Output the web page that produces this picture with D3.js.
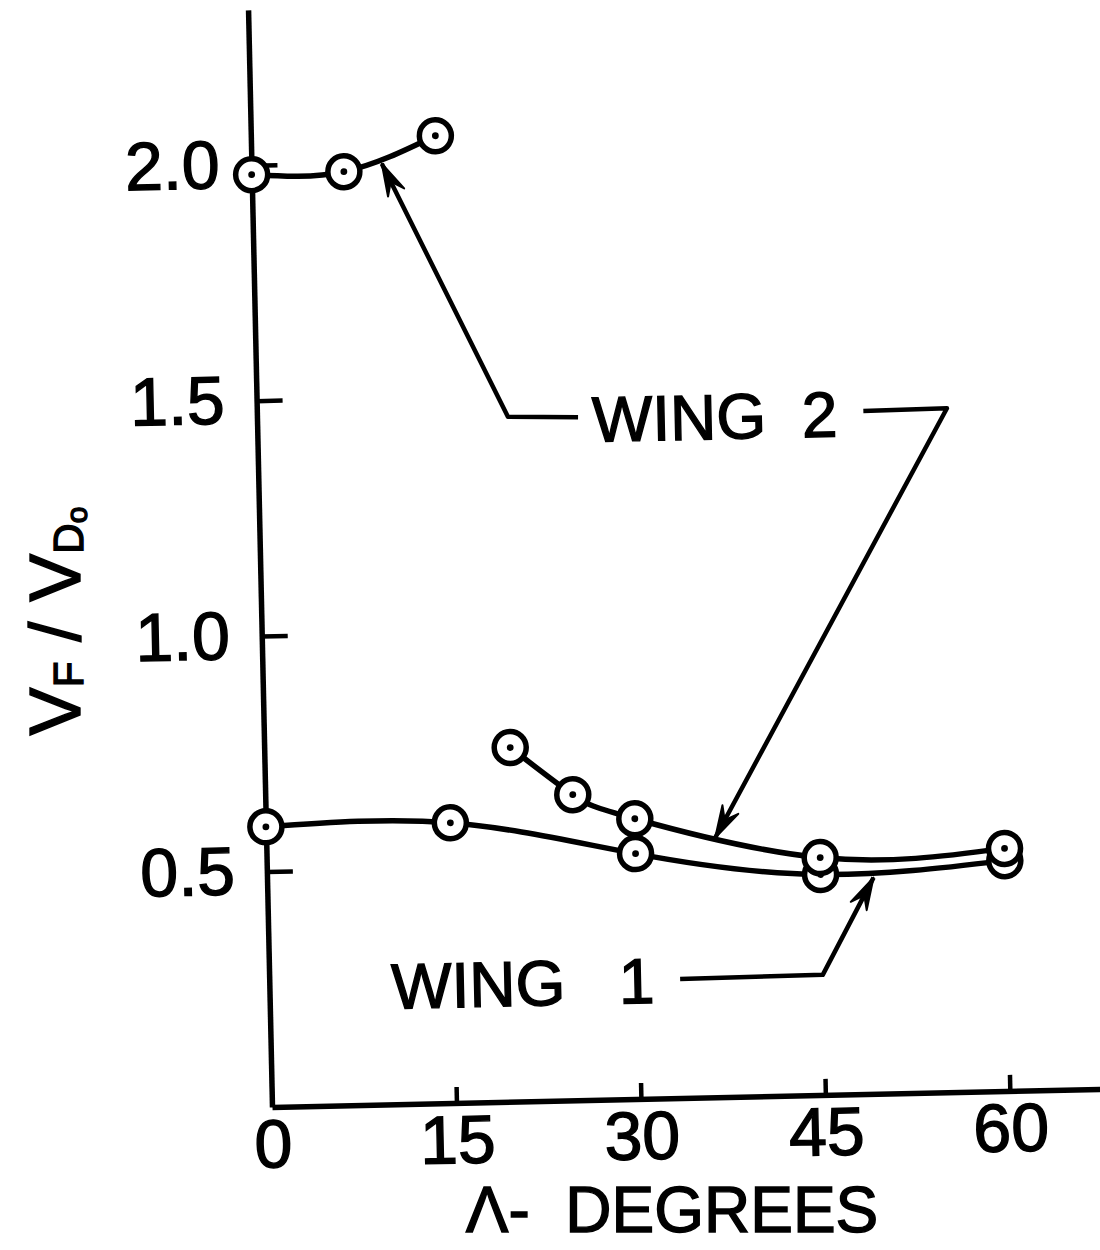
<!DOCTYPE html>
<html>
<head>
<meta charset="utf-8">
<script src="https://cdn.jsdelivr.net/npm/d3@7"></script>
<style>
  body { margin: 0; background: #fff; }
  text { font-family: "Liberation Sans", Arial, sans-serif; fill: #000; stroke: #000; stroke-width: 1.4px; }
</style>
</head>
<body>
<div id="chart"></div>
<script>
// data (sweep angle in degrees, VF/VDo)
const wing1Sweep = [0, 15, 30, 45, 60];
const wing1Ratio = [0.595, 0.595, 0.521, 0.468, 0.489];

const wing2HighSweep = [0, 7.5, 15];
const wing2HighRatio = [1.98, 1.982, 2.054];

const wing2LowSweep = [20, 25, 30, 45, 60];
const wing2LowRatio = [0.752, 0.649, 0.595, 0.504, 0.515];

const xTicks = [0, 15, 30, 45, 60];
const yTicks = [0.5, 1.0, 1.5, 2.0];

// callouts, in data units (deg, ratio)
const wing2LeaderA = [[26.1, 1.450], [20.4, 1.454], [10.6, 1.997]];
const wing2LeaderB = [[49.3, 1.450], [56.1, 1.452], [36.5, 0.551]];
const wing1Leader = [[33.4, 0.253], [45.0, 0.255], [49.3, 0.459]];
const wing2Label = [37.2, 1.446];
const wing1Label = [20.6, 0.252];

const svg = d3.select("#chart")
  .append("svg")
  .attr("width", 1100)
  .attr("height", 1250);

// the scanned figure is tilted a little, so the whole plot is rotated
const g = svg.append("g")
  .attr("transform", "translate(272,1107) rotate(-1.25)");

const x = d3.scaleLinear().domain([0, 68]).range([0, 68 * 12.3]);
const y = d3.scaleLinear().domain([0, 2.33]).range([0, -2.33 * 471]);

const yAxis = d3.axisLeft(y)
  .tickValues(yTicks)
  .tickFormat(d3.format(".1f"))
  .tickSizeInner(-26)
  .tickSizeOuter(0)
  .tickPadding(32);

const xAxis = d3.axisBottom(x)
  .tickValues(xTicks)
  .tickFormat(d3.format("d"))
  .tickSizeInner(-16)
  .tickSizeOuter(0)
  .tickPadding(12);

const gy = g.append("g").call(yAxis);
const gx = g.append("g").call(xAxis);

[gx, gy].forEach(a => {
  a.select(".domain").attr("stroke", "#000").attr("stroke-width", 5.5);
  a.selectAll(".tick line").attr("stroke", "#000").attr("stroke-width", 4.5);
  a.selectAll(".tick text")
    .attr("fill", "#000")
    .style("font-family", "'Liberation Sans', Arial, sans-serif")
    .style("font-size", "68px");
});
gx.select(".tick line").remove();

const line = d3.line()
  .x(d => x(d[0]))
  .y(d => y(d[1]))
  .curve(d3.curveNatural);

const series = [
  d3.zip(wing1Sweep, wing1Ratio),
  d3.zip(wing2HighSweep, wing2HighRatio),
  d3.zip(wing2LowSweep, wing2LowRatio)
];

series.forEach(pts => {
  g.append("path")
    .datum(pts)
    .attr("d", line)
    .attr("fill", "none")
    .attr("stroke", "#000")
    .attr("stroke-width", 5.5);
});

series.forEach(pts => {
  const pt = g.append("g")
    .selectAll("g")
    .data(pts)
    .enter()
    .append("g")
    .attr("transform", d => `translate(${x(d[0])},${y(d[1])})`);
  pt.append("circle")
    .attr("r", 16)
    .attr("fill", "#fff")
    .attr("stroke", "#000")
    .attr("stroke-width", 5.5);
  pt.append("circle")
    .attr("r", 3.4)
    .attr("fill", "#000");
});

// leader lines with barbed arrow heads
const leader = d3.line().x(d => x(d[0])).y(d => y(d[1]));

function drawLeader(pts) {
  g.append("path")
    .attr("d", leader(pts))
    .attr("fill", "none")
    .attr("stroke", "#000")
    .attr("stroke-width", 4.5)
    .attr("stroke-linejoin", "round");
  const a = pts[pts.length - 2], b = pts[pts.length - 1];
  const ax = x(a[0]), ay = y(a[1]), bx = x(b[0]), by = y(b[1]);
  const ang = Math.atan2(by - ay, bx - ax);
  const len = 32, w = 9, notch = 20;
  const ux = Math.cos(ang), uy = Math.sin(ang);
  const px = -uy, py = ux;
  const head = [
    [bx, by],
    [bx - ux * len + px * w, by - uy * len + py * w],
    [bx - ux * notch, by - uy * notch],
    [bx - ux * len - px * w, by - uy * len - py * w]
  ];
  g.append("path")
    .attr("d", "M" + head.map(p => p.join(",")).join("L") + "Z")
    .attr("fill", "#000")
    .attr("stroke", "#000")
    .attr("stroke-width", 2)
    .attr("stroke-linejoin", "round");
}

drawLeader(wing2LeaderA);
drawLeader(wing2LeaderB);
drawLeader(wing1Leader);

g.append("text")
  .attr("x", x(wing2Label[0]))
  .attr("y", y(wing2Label[1]))
  .attr("dy", "0.36em")
  .attr("text-anchor", "middle")
  .style("font-size", "64px")
  .style("white-space", "pre")
  .text("WING  2");

g.append("text")
  .attr("x", x(wing1Label[0]))
  .attr("y", y(wing1Label[1]))
  .attr("dy", "0.36em")
  .attr("text-anchor", "middle")
  .style("font-size", "64px")
  .style("white-space", "pre")
  .text("WING   1");

// axis titles
svg.append("text")
  .attr("x", 672)
  .attr("y", 1232)
  .attr("text-anchor", "middle")
  .style("font-size", "64px")
  .style("white-space", "pre")
  .text("Λ-  DEGREES");

const yl = svg.append("text")
  .attr("transform", "translate(80,621) rotate(-90)")
  .attr("text-anchor", "middle")
  .style("font-size", "72px");
yl.append("tspan").text("V");
yl.append("tspan").attr("dy", 3).style("font-size", "42px").text("F");
yl.append("tspan").attr("dy", -3).style("white-space", "pre").text(" / V");
yl.append("tspan").attr("dy", 3).style("font-size", "42px").text("D");
yl.append("tspan").attr("dy", 4).style("font-size", "30px").text("o");
</script>
</body>
</html>
